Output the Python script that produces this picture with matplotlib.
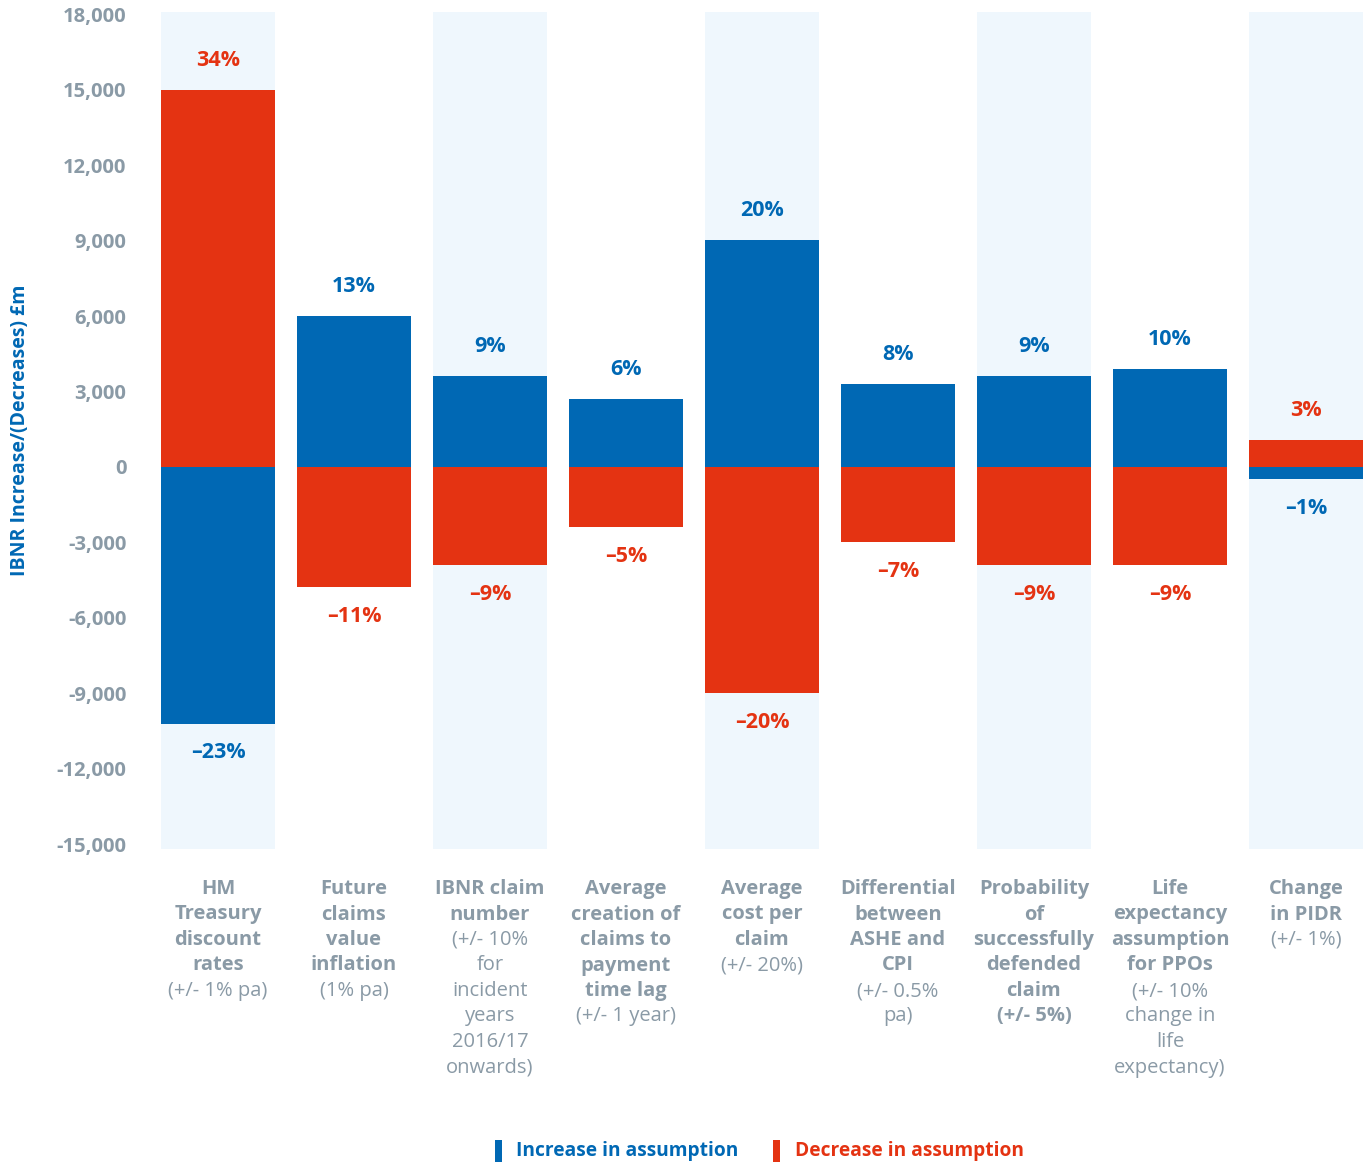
import matplotlib
matplotlib.use("Agg")
import matplotlib.pyplot as plt
from matplotlib.patches import Rectangle
import matplotlib.transforms as mtransforms

plt.rcParams['font.family'] = ['Open Sans', 'DejaVu Sans']

# ---- data ----
categories_bold = [
    ["HM", "Treasury", "discount", "rates"],
    ["Future", "claims", "value", "inflation"],
    ["IBNR claim", "number"],
    ["Average", "creation of", "claims to", "payment", "time lag"],
    ["Average", "cost per", "claim"],
    ["Differential", "between", "ASHE and", "CPI"],
    ["Probability", "of", "successfully", "defended", "claim", "(+/- 5%)"],
    ["Life", "expectancy", "assumption", "for PPOs"],
    ["Change", "in PIDR"],
]
categories_note = [
    ["(+/- 1% pa)"],
    ["(1% pa)"],
    ["(+/- 10%", "for", "incident", "years", "2016/17", "onwards)"],
    ["(+/- 1 year)"],
    ["(+/- 20%)"],
    ["(+/- 0.5%", "pa)"],
    [],
    ["(+/- 10%", "change in", "life", "expectancy)"],
    ["(+/- 1%)"],
]
increase = [-10200, 6000, 3620, 2700, 9030, 3300, 3620, 3900, -480]
decrease = [15000, -4770, -3900, -2390, -8990, -2980, -3900, -3900, 1070]
inc_pct = ["\u201323%", "13%", "9%", "6%", "20%", "8%", "9%", "10%", "\u20131%"]
dec_pct = ["34%", "\u201311%", "\u20139%", "\u20135%", "\u201320%", "\u20137%", "\u20139%", "\u20139%", "3%"]
yticks = [-15000, -12000, -9000, -6000, -3000, 0, 3000, 6000, 9000, 12000, 15000, 18000]
legend_labels = ["Increase in assumption", "Decrease in assumption"]

BLUE = "#0068b4"
RED = "#e43312"
BAND = "#eff7fd"
GRAY = "#8a9aa6"

W, H = 1370, 1164
fig = plt.figure(figsize=(W / 100, H / 100), dpi=100)
ax_left, ax_right, ax_top, ax_bot = 161, 1363, 12, 849
ax = fig.add_axes([ax_left / W, 1 - ax_bot / H, (ax_right - ax_left) / W, (ax_bot - ax_top) / H])

bw = 114 / 136
n = len(increase)
ax.set_xlim(-bw / 2, n - 1 + bw / 2)
ax.set_ylim(-15190, 18090)

x = list(range(n))
for i in x:
    if i % 2 == 0:
        ax.axvspan(i - bw / 2, i + bw / 2, color=BAND, zorder=0, lw=0)

ax.bar(x, increase, width=bw, color=BLUE, zorder=2, lw=0)
ax.bar(x, decrease, width=bw, color=RED, zorder=2, lw=0)

off = 21
for i in x:
    for val, lab, col in ((increase[i], inc_pct[i], BLUE), (decrease[i], dec_pct[i], RED)):
        ax.annotate(lab, (i, val), xytext=(0, off if val > 0 else -off), textcoords='offset points',
                    ha='center', va='center', color=col, fontsize=15.5, fontweight='bold')

ax.set_yticks(yticks)
ax.set_yticklabels([f"{v:,}" for v in yticks])
ax.tick_params(axis='y', length=0, pad=25, labelsize=14.5, labelcolor=GRAY)
for t in ax.get_yticklabels():
    t.set_fontweight('bold')
ax.set_xticks([])
for s in ax.spines.values():
    s.set_visible(False)

fig.text(20 / W, 1 - 430 / H, "IBNR Increase/(Decreases) \u00a3m", rotation=90, ha='center', va='center',
         color=BLUE, fontsize=14, fontweight='bold')

# category labels
trans = mtransforms.blended_transform_factory(ax.transData, fig.transFigure)
y0 = 889
dy = 25.5
for i in x:
    lines = [(l, 'bold') for l in categories_bold[i]] + [(l, 'normal') for l in categories_note[i]]
    for k, (l, wgt) in enumerate(lines):
        ax.text(i, 1 - (y0 + k * dy) / H, l, transform=trans, ha='center', va='center',
                color=GRAY, fontsize=14.5, fontweight=wgt, clip_on=False)

# legend
for xm, xt, col, lab in ((495, 516, BLUE, legend_labels[0]), (773, 795, RED, legend_labels[1])):
    fig.patches.append(Rectangle((xm / W, 1 - 1162 / H), 7 / W, 22 / H, transform=fig.transFigure,
                                 color=col, lw=0))
    fig.text(xt / W, 1 - 1151 / H, lab, ha='left', va='center', color=col, fontsize=13.8, fontweight='bold')

fig.savefig("out.png", dpi=100)
